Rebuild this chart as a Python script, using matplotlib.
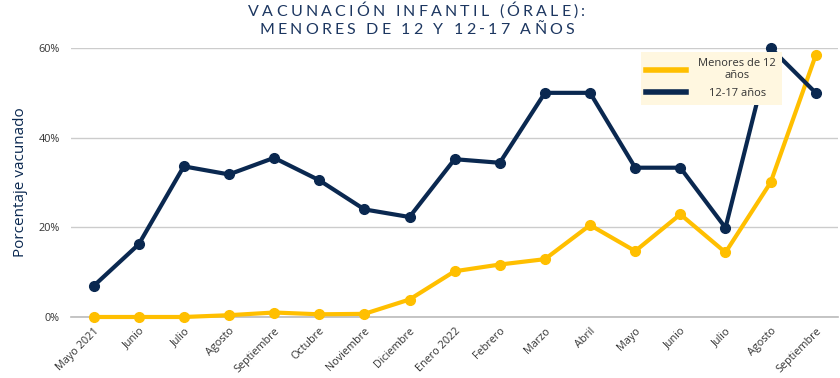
import matplotlib
matplotlib.use("Agg")
import matplotlib.pyplot as plt
from matplotlib.lines import Line2D
from matplotlib.ticker import PercentFormatter

# months on the x axis
meses = ["Mayo 2021", "Junio", "Julio", "Agosto", "Septiembre", "Octubre",
         "Noviembre", "Diciembre", "Enero 2022", "Febrero", "Marzo", "Abril",
         "Mayo", "Junio", "Julio", "Agosto", "Septiembre"]

# percent vaccinated
menores_12 = [0.0, 0.0, 0.0, 0.4, 1.0, 0.6, 0.7, 3.9, 10.2, 11.7, 12.9,
              20.5, 14.7, 22.9, 14.4, 30.0, 58.4]
edad_12_17 = [6.9, 16.2, 33.6, 31.8, 35.5, 30.5, 24.0, 22.3, 35.2, 34.4, 50.0,
              50.0, 33.3, 33.3, 19.9, 60.0, 50.0]

titulo = ["VACUNACIÓN INFANTIL (ÓRALE):", "MENORES DE 12 Y 12-17 AÑOS"]

amarillo = "#FFBF00"
azul = "#0A2850"
texto = "#333333"

plt.rcParams["font.family"] = ["Open Sans", "DejaVu Sans"]

fig = plt.figure(figsize=(8.4, 3.78), dpi=100)
ax = fig.add_axes([0.0845, 0.1614, 0.9135, 0.7116])

x = list(range(len(meses)))
ax.plot(x, menores_12, color=amarillo, lw=3, marker="o", ms=7,
        clip_on=False, zorder=3)
ax.plot(x, edad_12_17, color=azul, lw=3, marker="o", ms=7,
        clip_on=False, zorder=3)

ax.set_xlim(-0.5, len(meses) - 0.5)
ax.set_ylim(0, 60)
ax.set_yticks([0, 20, 40, 60])
ax.yaxis.set_major_formatter(PercentFormatter(decimals=0))
ax.grid(axis="y", color="#cccccc", lw=1)
ax.set_axisbelow(True)
for s in ["left", "right", "top"]:
    ax.spines[s].set_visible(False)
ax.spines["bottom"].set_color("#bbbbbb")
ax.spines["bottom"].set_linewidth(1.2)

ax.set_xticks(x)
ax.set_xticklabels(meses, rotation=45, ha="right", rotation_mode="anchor")
ax.tick_params(axis="x", length=0, pad=6, labelsize=7.8, labelcolor=texto)
ax.tick_params(axis="y", length=0, pad=8, labelsize=7.8, labelcolor=texto)

ax.set_ylabel("Porcentaje vacunado", color=azul, fontsize=11, labelpad=8)

handles = [Line2D([0], [0], color=amarillo, lw=4),
           Line2D([0], [0], color=azul, lw=4)]
leg = ax.legend(handles, ["Menores de 12\naños", "12-17 años"],
                loc="upper left", bbox_to_anchor=(0.735, 1.005), frameon=True,
                fontsize=8, handlelength=3.6, handletextpad=1.1,
                borderpad=0.5, labelspacing=0.6, fancybox=False)
leg.get_frame().set_facecolor("#FFF7E0")
leg.get_frame().set_edgecolor("none")
leg.get_frame().set_alpha(1)
leg.set_zorder(5)
renderer = fig.canvas.get_renderer()
leg_texts = leg.get_texts()
for t in leg_texts:
    t.set_color(texto)
    t.set_ha("center")
    t.set_multialignment("center")
# centre the single-line label under the two-line one
w0 = leg_texts[0].get_window_extent(renderer).width
w1 = leg_texts[1].get_window_extent(renderer).width
leg_texts[1].set_position(((w0 - w1) / 2, 0))


# title with wide letter spacing: place the characters one by one
def spaced_line(s, cx, y, size, spacing):
    widths = []
    for ch in s:
        t = fig.text(0, 0, ch, fontsize=size, fontfamily=["Lato", "DejaVu Sans"])
        w = t.get_window_extent(renderer).width if ch != " " else size * 0.35
        widths.append(w)
        t.remove()
    total = sum(widths) + spacing * (len(s) - 1)
    xpos = cx * fig.bbox.width - total / 2
    for ch, w in zip(s, widths):
        fig.text(xpos / fig.bbox.width, y, ch, ha="left", va="center",
                 fontsize=size, color="#1C3660",
                 fontfamily=["Lato", "DejaVu Sans"])
        xpos += w + spacing


spaced_line(titulo[0], 0.496, 1 - 12 / 378, 11.5, 3.2)
spaced_line(titulo[1], 0.496, 1 - 30 / 378, 11.5, 3.2)

fig.savefig("out.png", dpi=100)
